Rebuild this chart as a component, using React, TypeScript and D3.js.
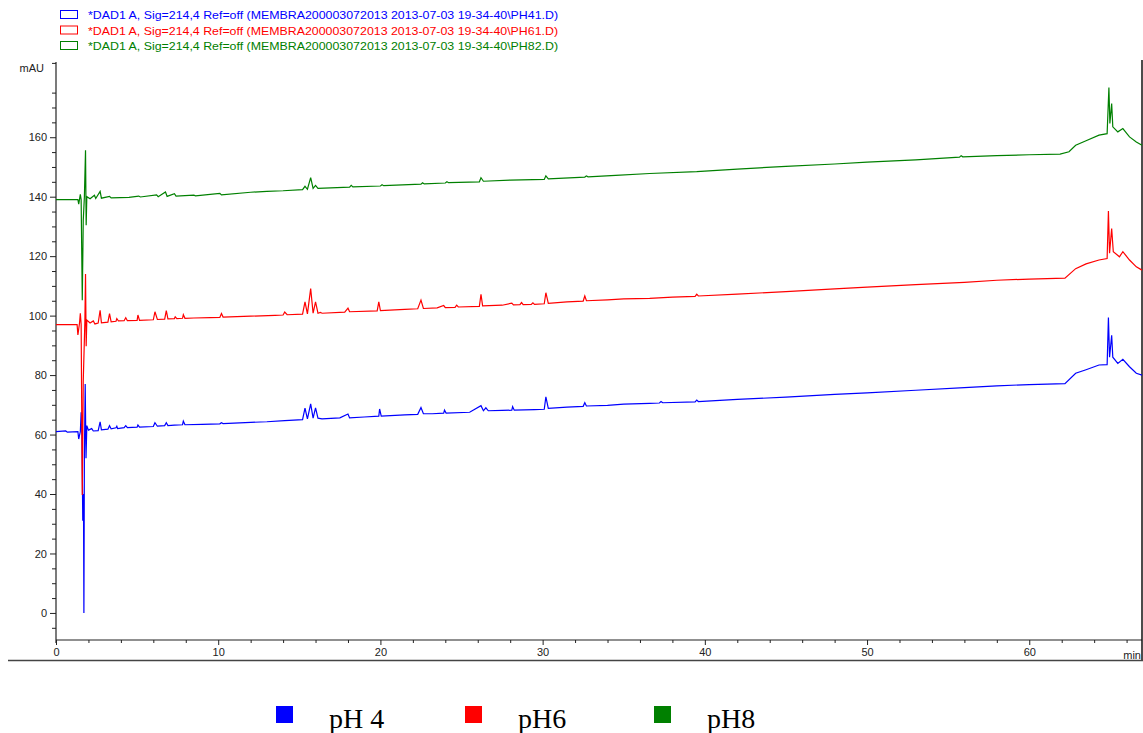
import React, { useRef, useEffect } from 'react';
import * as d3 from 'd3';

type Pt = [number, number];

// retention time (min), absorbance (mAU)
const PH4: Pt[] = [
  [0, 61.0], [0.6, 61.2], [0.7, 60.8], [1.35, 61.0], [1.4, 58.5], [1.5, 61], [1.55, 67.5], [1.6, 60],
  [1.65, 31], [1.68, 40], [1.7, 31], [1.72, 0], [1.75, 53], [1.8, 77], [1.85, 52], [1.9, 63], [2.0, 61.5],
  [2.2, 62], [2.3, 61.2], [2.6, 61.3], [2.72, 64.3], [2.8, 61.6], [3.2, 61.8], [3.3, 63], [3.4, 61.9],
  [3.7, 62.3], [3.75, 62.8], [3.8, 62], [4.2, 62.3], [4.3, 63], [4.4, 62.3], [5.0, 62.5], [5.05, 63.2],
  [5.15, 62.5], [6.0, 62.7], [6.1, 64], [6.25, 62.8], [6.7, 63], [6.8, 64], [6.9, 63], [7.3, 63.2],
  [7.8, 63.3], [7.85, 64.5], [7.95, 63.3], [9, 63.4], [10.1, 63.6], [10.2, 64], [10.3, 63.7], [12, 64.1],
  [13, 64.3], [14.1, 64.7], [15.2, 65], [15.35, 68.9], [15.5, 65.3], [15.7, 70.3], [15.85, 65.5],
  [16.0, 69], [16.15, 65.5], [16.4, 65.3], [17.5, 65.6], [18.0, 66.9], [18.1, 65.6], [19.0, 65.9],
  [19.9, 66.2], [19.95, 68.6], [20.05, 66.2], [21.5, 66.6], [22.3, 66.8], [22.5, 69.1], [22.65, 67],
  [23.2, 67], [23.9, 67.2], [23.95, 68.2], [24.05, 67.2], [25.5, 67.5], [26.2, 69.7], [26.35, 68],
  [26.5, 69], [26.65, 68], [27.5, 68.1], [28.1, 68.2], [28.15, 69.4], [28.25, 68.2], [29.5, 68.4],
  [30.1, 68.5], [30.2, 72.7], [30.35, 68.8], [31.5, 69.2], [32.5, 69.5], [32.6, 70.7], [32.7, 69.6],
  [34, 69.8], [35, 70.2], [36.6, 70.5], [37.2, 70.6], [37.3, 71.1], [37.4, 70.7], [39.4, 71],
  [39.5, 71.6], [39.6, 71.1], [42, 71.8], [45, 72.6], [48, 73.5], [50, 74], [53, 74.9], [56, 75.8],
  [58, 76.4], [60, 76.8], [62.2, 77.1], [62.86, 80.6], [63.5, 81.8], [64.3, 83.4], [64.8, 83.5],
  [64.88, 99.4], [64.95, 86], [65.08, 93.4], [65.15, 86], [65.46, 83.9], [65.77, 85.3], [66.18, 82.8],
  [66.6, 80.6], [66.95, 80],
];

const PH6: Pt[] = [
  [0, 97], [1.3, 97], [1.35, 93.5], [1.45, 97.5], [1.5, 100.8], [1.55, 97], [1.62, 39.7], [1.68, 78],
  [1.78, 98], [1.82, 114], [1.86, 89.7], [1.9, 98.5], [2.1, 97.5], [2.3, 98.2], [2.4, 97.2], [2.6, 97.5],
  [2.72, 101.8], [2.8, 97.6], [3.2, 97.8], [3.3, 100.7], [3.4, 97.9], [3.7, 98.1], [3.75, 99],
  [3.85, 98.2], [4.2, 98.3], [4.3, 99.3], [4.4, 98.3], [5.0, 98.4], [5.05, 100.2], [5.15, 98.4],
  [6.0, 98.6], [6.1, 101.3], [6.25, 98.7], [6.7, 98.8], [6.8, 101.7], [6.9, 98.9], [7.3, 99],
  [7.35, 99.6], [7.45, 99], [7.8, 99.1], [7.85, 100.3], [7.95, 99.1], [8.5, 99.2], [9.5, 99.3],
  [10.1, 99.4], [10.2, 100.7], [10.3, 99.5], [12, 99.8], [13.5, 100.1], [14.0, 100.2], [14.1, 101.2],
  [14.25, 100.3], [15.2, 100.5], [15.35, 104.6], [15.5, 100.6], [15.7, 109.1], [15.85, 100.8],
  [16.0, 104.6], [16.15, 100.8], [16.3, 101.1], [16.4, 100.8], [17.8, 101.2], [18.0, 102.5],
  [18.1, 101.3], [19.8, 101.6], [19.9, 104.6], [20.0, 101.7], [21.5, 102.1], [22.3, 102.3],
  [22.5, 105.2], [22.65, 102.4], [23.5, 102.6], [23.9, 103.4], [24.0, 102.7], [24.6, 102.8],
  [24.7, 103.5], [24.8, 102.9], [26.1, 103.1], [26.2, 107.2], [26.3, 103.3], [27.5, 103.5],
  [28.1, 104.2], [28.2, 103.6], [28.6, 103.7], [28.7, 104.4], [28.8, 103.7], [29.3, 103.8],
  [29.4, 104.3], [29.5, 103.8], [30.1, 104], [30.2, 107.7], [30.35, 104.1], [31.5, 104.6],
  [32.5, 104.9], [32.6, 106.6], [32.7, 105], [34, 105.3], [35, 105.6], [36.6, 105.8], [38, 106.2],
  [39.4, 106.5], [39.5, 107.2], [39.6, 106.6], [42, 107.2], [45, 108.1], [48, 109], [50, 109.6],
  [53, 110.4], [56, 111.2], [58, 111.9], [60, 112.3], [62.2, 112.6], [62.86, 115.8], [63.5, 117.4],
  [64.3, 118.7], [64.8, 119.2], [64.88, 135.2], [64.95, 121], [65.08, 129.3], [65.18, 121.5],
  [65.56, 119.8], [65.77, 121.5], [66.18, 118.7], [66.6, 116.4], [66.95, 115.3],
];

const PH8: Pt[] = [
  [0, 139], [1.35, 139], [1.4, 137.5], [1.5, 140.8], [1.55, 139], [1.62, 105.2], [1.68, 132],
  [1.75, 140], [1.82, 155.6], [1.86, 130.4], [1.9, 140], [2.1, 139.3], [2.37, 140.5], [2.45, 139.4],
  [2.72, 141.8], [2.8, 139.5], [3.3, 140.1], [3.4, 139.6], [4.5, 139.8], [5.1, 140.2], [5.2, 139.9],
  [6.2, 140.6], [6.3, 140], [6.75, 141.6], [6.85, 140.1], [7.3, 141], [7.4, 140.2], [8.5, 140.5],
  [8.6, 140.3], [10.1, 141.1], [10.2, 140.6], [12, 141.5], [13, 141.8], [14, 142], [15.2, 142.4],
  [15.35, 143.5], [15.5, 142.5], [15.7, 146.4], [15.85, 142.8], [16.0, 143.8], [16.15, 142.8],
  [18.1, 143.2], [18.2, 143.8], [18.3, 143.3], [20.0, 143.6], [20.1, 144], [20.2, 143.7],
  [22.5, 144.2], [22.6, 144.7], [22.7, 144.3], [24.0, 144.6], [24.1, 145], [24.2, 144.7],
  [26.1, 145], [26.2, 146.4], [26.35, 145.2], [28, 145.6], [30.1, 145.8], [30.2, 147], [30.35, 146],
  [32.6, 146.6], [32.7, 147], [32.8, 146.7], [34.5, 147.2], [36.6, 147.8], [39.5, 148.4], [42, 149.3],
  [45, 150.2], [48, 151], [50, 151.6], [53, 152.4], [55.7, 153.3], [55.8, 153.8], [55.9, 153.4],
  [58, 153.8], [60, 154.1], [61.9, 154.3], [62.45, 155.1], [62.86, 157.3], [63.5, 158.8],
  [64.3, 160.7], [64.8, 161.2], [64.91, 176.7], [64.97, 164.6], [65.08, 171.3], [65.15, 163.5],
  [65.46, 161.8], [65.77, 162.9], [66.18, 160.1], [66.6, 158.4], [66.95, 157.3],
];

const SERIES = [
  { key: 'pH 4', data: PH4, color: '#0000ff', file: 'PH41.D' },
  { key: 'pH6', data: PH6, color: '#ff0000', file: 'PH61.D' },
  { key: 'pH8', data: PH8, color: '#008000', file: 'PH82.D' },
];

const Y_LABELS = [0, 20, 40, 60, 80, 100, 120, 140, 160];
const X_LABELS = [0, 10, 20, 30, 40, 50, 60];

const W = 1143;
const H = 733;

const Chromatogram: React.FC = () => {
  const svgRef = useRef<SVGSVGElement>(null);

  useEffect(() => {
    if (!svgRef.current) return;
    const svg = d3.select(svgRef.current);
    svg.selectAll('*').remove();

    const x = d3.scaleLinear().domain([0, 66.95]).range([56, 1142]);
    const y = d3.scaleLinear().domain([-9.1, 185.3]).range([640, 62]);
    const font = '"Liberation Sans", Arial, sans-serif';

    // header legend
    SERIES.forEach((s, i) => {
      const cy = 15 + i * 15.5;
      svg.append('rect')
        .attr('x', 60.5).attr('y', cy - 4.5)
        .attr('width', 17).attr('height', 8)
        .attr('fill', 'none').attr('stroke', s.color).attr('stroke-width', 1);
      svg.append('text')
        .attr('x', 88).attr('y', cy + 4)
        .attr('fill', s.color)
        .style('font-family', font).style('font-size', '11px')
        .attr('textLength', 470).attr('lengthAdjust', 'spacingAndGlyphs')
        .text(`*DAD1 A, Sig=214,4 Ref=off (MEMBRA200003072013 2013-07-03 19-34-40\\${s.file})`);
    });

    // y axis
    const yMinor = d3.range(-5, 186, 5).filter((v) => v % 20 !== 0);
    const yg = svg.append('g').attr('transform', 'translate(56,0)');
    yg.append('line').attr('x1', 0).attr('x2', 0).attr('y1', 62).attr('y2', 643)
      .attr('stroke', '#222').attr('stroke-width', 1.2);
    yg.call((g) => g.append('g').call(
      d3.axisLeft(y).tickValues(yMinor).tickSize(4).tickSizeOuter(0).tickFormat(() => '')
    ).call((a) => a.select('.domain').remove()));
    yg.call((g) => g.append('g').call(
      d3.axisLeft(y).tickValues(Y_LABELS).tickSize(6).tickSizeOuter(0).tickPadding(3)
    ).call((a) => a.select('.domain').remove()));
    yg.selectAll('.tick line').attr('stroke', '#222');
    yg.selectAll('.tick text')
      .style('font-family', font).style('font-size', '11px').attr('fill', '#222');

    svg.append('text')
      .attr('x', 44).attr('y', 72).attr('text-anchor', 'end')
      .style('font-family', font).style('font-size', '11px').attr('fill', '#222')
      .text('mAU');

    // x axis
    const xMinor = d3.range(2, 67, 2).filter((v) => v % 10 !== 0);
    const xg = svg.append('g').attr('transform', 'translate(0,640)');
    xg.append('line').attr('x1', 56).attr('x2', 1142).attr('y1', 0).attr('y2', 0)
      .attr('stroke', '#222').attr('stroke-width', 1.2);
    xg.call((g) => g.append('g').call(
      d3.axisBottom(x).tickValues(xMinor).tickSize(3).tickSizeOuter(0).tickFormat(() => '')
    ).call((a) => a.select('.domain').remove()));
    xg.call((g) => g.append('g').call(
      d3.axisBottom(x).tickValues(X_LABELS).tickSize(5).tickSizeOuter(0).tickPadding(3)
    ).call((a) => a.select('.domain').remove()));
    xg.selectAll('.tick line').attr('stroke', '#222');
    xg.selectAll('.tick text')
      .style('font-family', font).style('font-size', '11px').attr('fill', '#222');

    svg.append('text')
      .attr('x', 1141).attr('y', 659).attr('text-anchor', 'end')
      .style('font-family', font).style('font-size', '11px').attr('fill', '#222')
      .text('min');

    // frame lines
    svg.append('line').attr('x1', 1142).attr('x2', 1142).attr('y1', 60).attr('y2', 661)
      .attr('stroke', '#111').attr('stroke-width', 1.5);
    svg.append('line').attr('x1', 8).attr('x2', W).attr('y1', 660.5).attr('y2', 660.5)
      .attr('stroke', '#444').attr('stroke-width', 1.5);

    // traces
    const line = d3.line<Pt>().x((d) => x(d[0])).y((d) => y(d[1]));
    SERIES.forEach((s) => {
      svg.append('path')
        .datum(s.data)
        .attr('d', line)
        .attr('fill', 'none')
        .attr('stroke', s.color)
        .attr('stroke-width', 1.2)
        .attr('stroke-linejoin', 'miter');
    });

    // bottom legend
    const legendX = [276, 465, 654];
    SERIES.forEach((s, i) => {
      svg.append('rect')
        .attr('x', legendX[i]).attr('y', 706)
        .attr('width', 17).attr('height', 17)
        .attr('fill', s.color);
      svg.append('text')
        .attr('x', legendX[i] + 53).attr('y', 728)
        .style('font-family', '"Liberation Serif", "Times New Roman", serif')
        .style('font-size', '28px').attr('fill', '#000')
        .text(s.key);
    });
  }, []);

  return (
    <svg
      ref={svgRef}
      width={W}
      height={H}
      style={{ position: 'absolute', left: 0, top: 0, background: '#fff' }}
    />
  );
};

export default function App() {
  return <Chromatogram />;
}
